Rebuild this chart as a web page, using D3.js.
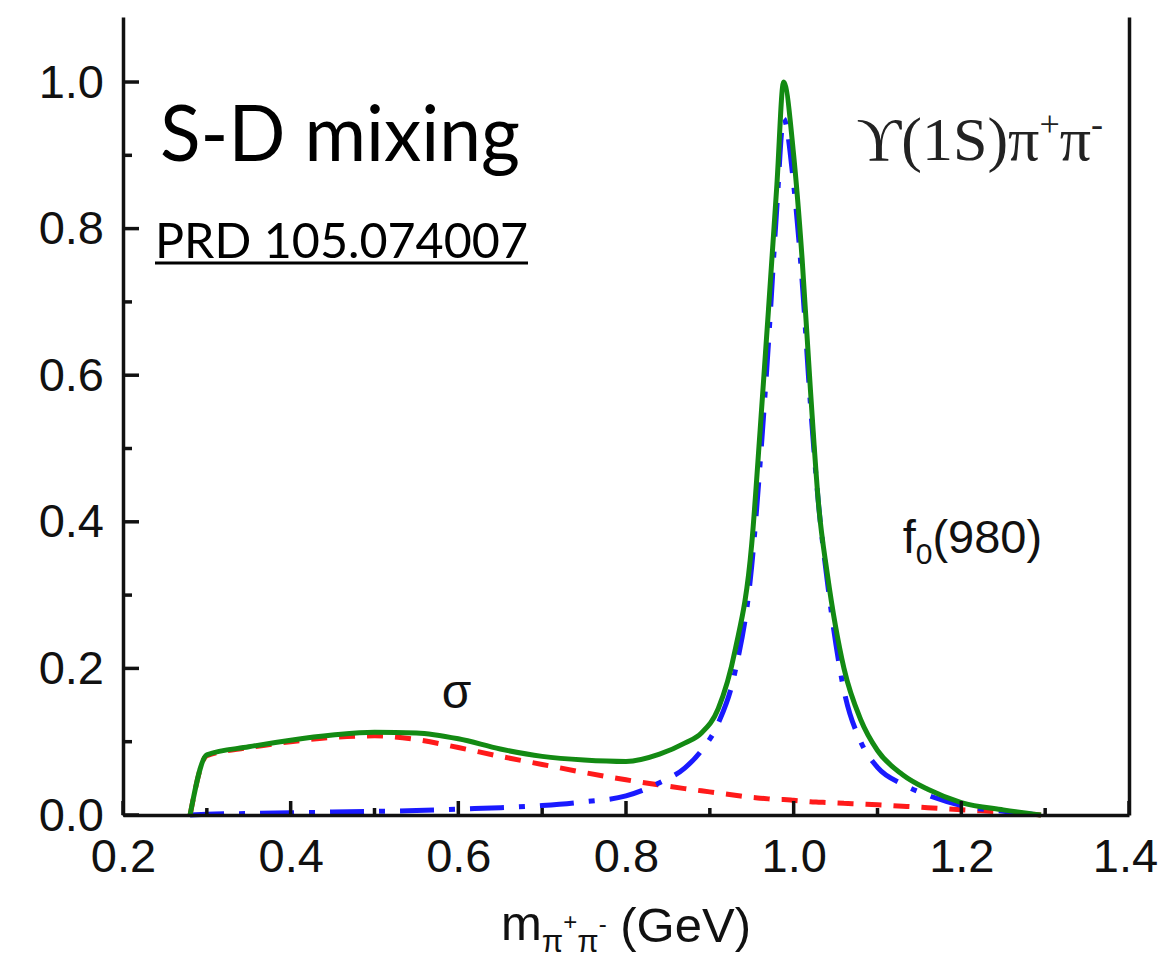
<!DOCTYPE html>
<html>
<head>
<meta charset="utf-8">
<script src="https://cdn.jsdelivr.net/npm/d3@7/dist/d3.min.js"></script>
<style>
  html, body { margin: 0; padding: 0; background: #fff; }
  svg { display: block; }
</style>
</head>
<body>
<svg id="chart" width="1158" height="966"></svg>
<script>
// ---- data ----
const massGeV = [0.28, 0.30, 0.35, 0.40, 0.45, 0.50, 0.55, 0.60, 0.65, 0.70, 0.75, 0.80, 0.84, 0.87, 0.89, 0.91, 0.93, 0.95, 0.96, 0.97, 0.98, 0.988, 1.00, 1.01, 1.02, 1.03, 1.04, 1.06, 1.08, 1.10, 1.13, 1.16, 1.20, 1.25, 1.295];
const totalYield = [0, 0.082, 0.093, 0.102, 0.109, 0.113, 0.112, 0.104, 0.090, 0.080, 0.075, 0.073, 0.083, 0.098, 0.112, 0.145, 0.224, 0.37, 0.525, 0.69, 0.86, 1.0, 0.90, 0.76, 0.58, 0.42, 0.33, 0.20, 0.13, 0.088, 0.055, 0.035, 0.017, 0.007, 0];
const sigmaYield = [0, 0.081, 0.092, 0.100, 0.106, 0.108, 0.103, 0.092, 0.080, 0.069, 0.058, 0.048, 0.041, 0.036, 0.033, 0.030, 0.027, 0.024, 0.023, 0.022, 0.021, 0.021, 0.020, 0.019, 0.018, 0.0175, 0.017, 0.016, 0.015, 0.014, 0.012, 0.010, 0.007, 0.004, 0];
const f0Yield = [0, 0.001, 0.002, 0.003, 0.004, 0.005, 0.006, 0.008, 0.010, 0.013, 0.018, 0.026, 0.044, 0.064, 0.088, 0.125, 0.195, 0.34, 0.48, 0.645, 0.83, 0.95, 0.86, 0.73, 0.56, 0.42, 0.32, 0.17, 0.10, 0.065, 0.042, 0.027, 0.013, 0.005, 0];

const xMajorTicks = [0.2, 0.4, 0.6, 0.8, 1.0, 1.2, 1.4];
const xMinorTicks = [0.3, 0.5, 0.7, 0.9, 1.1, 1.3];
const yMajorTicks = [0.0, 0.2, 0.4, 0.6, 0.8, 1.0];
const yMinorTicks = [0.1, 0.3, 0.5, 0.7, 0.9];

// ---- layout ----
const svg = d3.select("#chart");
const x = d3.scaleLinear().domain([0.2, 1.4]).range([123, 1129]);
const y = d3.scaleLinear().domain([0, 1.0887]).range([815, 17]);

const tickFont = "'Liberation Sans', Arial, Helvetica, sans-serif";

// curves
const rows = massGeV.map((m, i) => ({ m, tot: totalYield[i], sig: sigmaYield[i], f0: f0Yield[i] }));
const line = key => d3.line().x(d => x(d.m)).y(d => y(d[key])).curve(d3.curveMonotoneX);

svg.append("path").datum(rows)
  .attr("d", line("sig"))
  .attr("fill", "none").attr("stroke", "#ff1a1a").attr("stroke-width", 5)
  .attr("stroke-dasharray", "16,12");

svg.append("path").datum(rows)
  .attr("d", line("f0"))
  .attr("fill", "none").attr("stroke", "#1a1aff").attr("stroke-width", 5)
  .attr("stroke-dasharray", "34,15,6,15");

svg.append("path").datum(rows)
  .attr("d", line("tot"))
  .attr("fill", "none").attr("stroke", "#138a13").attr("stroke-width", 5)
  .attr("stroke-linejoin", "round");

// axes (labels + axis lines via d3 axes)
const gx = svg.append("g").attr("class", "axis").attr("transform", `translate(0,${y(0)})`)
  .call(d3.axisBottom(x).tickValues(xMajorTicks).tickSize(0).tickPadding(24).tickFormat(d3.format(".1f")));
gx.selectAll(".tick text").filter(d => d === 1.4).attr("dx", -4);

svg.append("g").attr("class", "axis").attr("transform", `translate(${x(0.2)},0)`)
  .call(d3.axisLeft(y).tickValues(yMajorTicks).tickSize(0).tickPadding(19).tickFormat(d3.format(".1f")));

svg.append("g").attr("class", "axis").attr("transform", `translate(${x(1.4)},0)`)
  .call(d3.axisRight(y).tickValues([]).tickSize(0));

svg.selectAll(".axis .tick line").remove();
svg.selectAll(".axis .domain").attr("stroke", "#111").attr("stroke-width", 3.5);
svg.selectAll(".axis .tick text").attr("font-family", tickFont).attr("font-size", 47).attr("fill", "#111");

// inward tick marks
const tickG = svg.append("g").attr("stroke", "#111").attr("stroke-width", 3.5);
tickG.selectAll("line.xmaj").data(xMajorTicks).join("line").attr("class", "xmaj")
  .attr("x1", d => x(d)).attr("x2", d => x(d)).attr("y1", y(0)).attr("y2", y(0) - 14);
tickG.selectAll("line.xmin").data(xMinorTicks).join("line").attr("class", "xmin")
  .attr("x1", d => x(d)).attr("x2", d => x(d)).attr("y1", y(0)).attr("y2", y(0) - 7);
tickG.selectAll("line.ymaj").data(yMajorTicks).join("line").attr("class", "ymaj")
  .attr("x1", x(0.2)).attr("x2", x(0.2) + 16).attr("y1", d => y(d)).attr("y2", d => y(d));
tickG.selectAll("line.ymin").data(yMinorTicks).join("line").attr("class", "ymin")
  .attr("x1", x(0.2)).attr("x2", x(0.2) + 9).attr("y1", d => y(d)).attr("y2", d => y(d));

// x-axis title
const xt = svg.append("text")
  .attr("x", (x(0.2) + x(1.4)) / 2).attr("y", 940)
  .attr("text-anchor", "middle")
  .attr("font-family", tickFont).attr("font-size", 49).attr("fill", "#111");
xt.append("tspan").text("m");
xt.append("tspan").attr("font-size", 31).attr("dy", 12).text("π");
xt.append("tspan").attr("font-size", 24).attr("dy", -22).text("+");
xt.append("tspan").attr("font-size", 31).attr("dy", 22).text("π");
xt.append("tspan").attr("font-size", 24).attr("dy", -20).text("-");
xt.append("tspan").attr("dy", 10).text(" (GeV)");

// in-plot labels
svg.append("text")
  .attr("x", x(0.598)).attr("y", y(0.146))
  .attr("text-anchor", "middle")
  .attr("font-family", tickFont).attr("font-size", 48).attr("fill", "#111")
  .text("σ");

const f0 = svg.append("text")
  .attr("x", x(1.13)).attr("y", y(0.357))
  .attr("font-family", tickFont).attr("font-size", 47).attr("fill", "#111");
f0.append("tspan").text("f");
f0.append("tspan").attr("font-size", 30).attr("dy", 11).text("0");
f0.append("tspan").attr("dy", -11).text("(980)");

const ups = svg.append("text")
  .attr("x", x(1.075)).attr("y", y(0.893))
  .attr("font-family", "'Liberation Serif', 'Times New Roman', serif").attr("font-size", 62).attr("fill", "#222");
ups.append("tspan").text("ϒ(1S)π");
ups.append("tspan").attr("font-size", 36).attr("dy", -24).text("+");
ups.append("tspan").attr("dy", 24).text("π");
ups.append("tspan").attr("font-size", 36).attr("dy", -24).text("-");

// title annotations
svg.append("text")
  .attr("x", 160).attr("y", 161)
  .attr("font-family", "Lato, 'Noto Sans', sans-serif").attr("font-size", 78).attr("fill", "#000")
  .attr("textLength", 360).attr("lengthAdjust", "spacingAndGlyphs")
  .text("S-D mixing");

svg.append("text")
  .attr("x", 155).attr("y", 258)
  .attr("font-family", "Lato, 'Noto Sans', sans-serif").attr("font-size", 48).attr("fill", "#000")
  .attr("textLength", 373).attr("lengthAdjust", "spacingAndGlyphs")
  .text("PRD 105.074007");
svg.append("line")
  .attr("x1", 155).attr("x2", 528).attr("y1", 263).attr("y2", 263)
  .attr("stroke", "#000").attr("stroke-width", 3);
</script>
</body>
</html>
